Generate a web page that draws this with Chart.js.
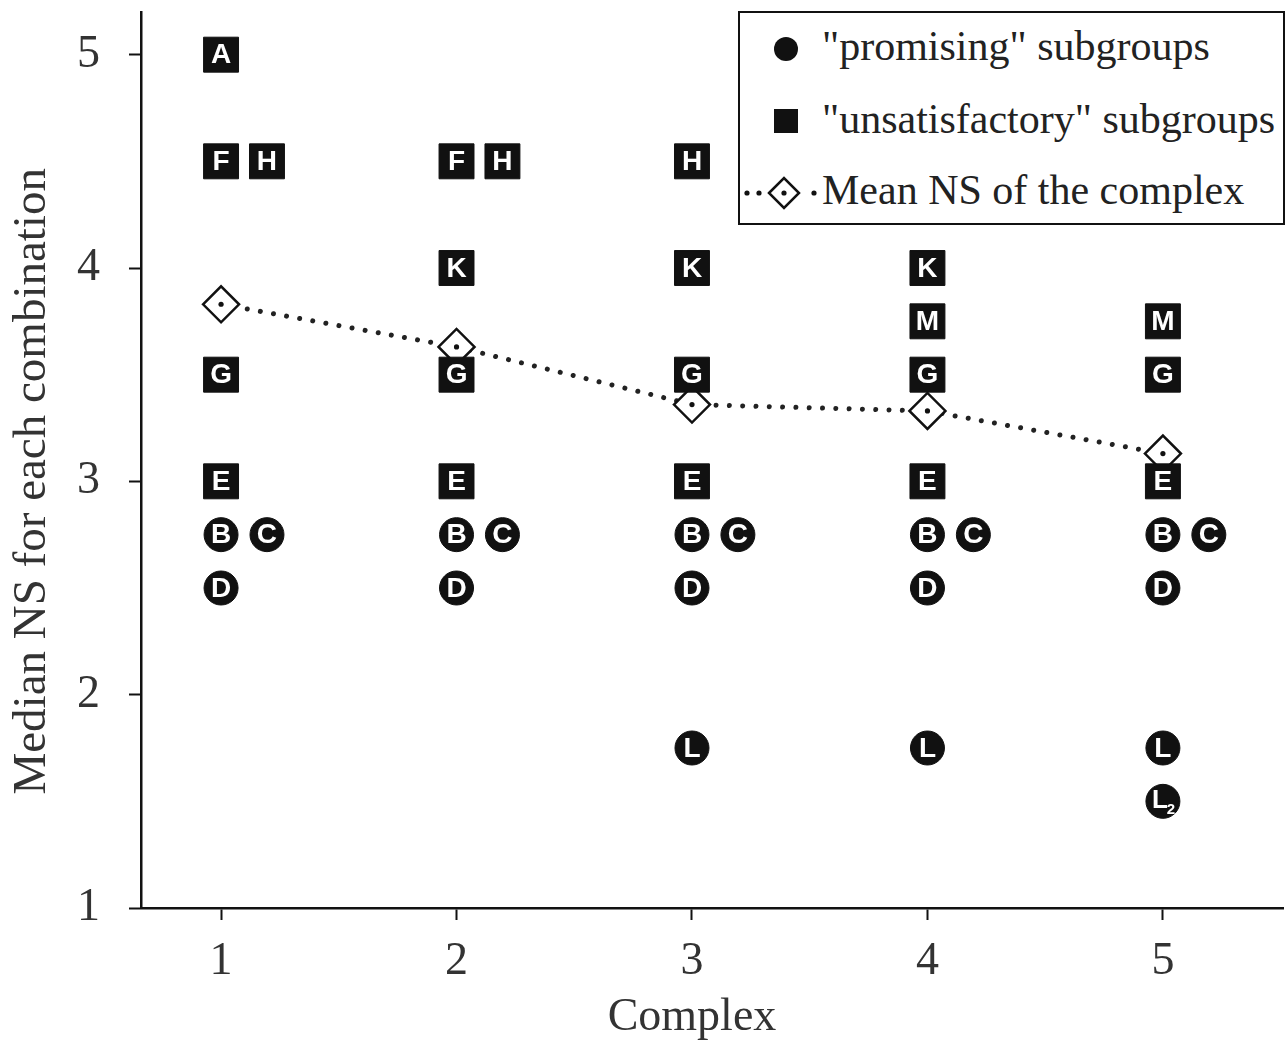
<!DOCTYPE html>
<html>
<head>
<meta charset="utf-8">
<script src="https://cdn.jsdelivr.net/npm/chart.js@4.4.1/dist/chart.umd.min.js"></script>
<style>
  body { margin: 0; background: #fff; }
  #wrap { position: relative; width: 1285px; height: 1041px; }
  #legendBox {
    position: absolute; left: 738px; top: 11px; width: 543px; height: 210px;
    border: 2px solid #111; background: #fff;
    font-family: "Liberation Serif", "Times New Roman", serif; font-size: 42px; color: #222;
  }
  .row { position: absolute; left: 82px; height: 46px; line-height: 46px; white-space: nowrap; }
  .mark { position: absolute; }
</style>
</head>
<body>
<div id="wrap">
  <canvas id="chart" width="1285" height="1041"></canvas>
  <div id="legendBox">
    <svg class="mark" style="left:32px;top:22px" width="28" height="28"><circle cx="14" cy="14" r="12" fill="#111"/></svg>
    <div class="row" style="top:10px">"promising" subgroups</div>
    <svg class="mark" style="left:33px;top:95px" width="26" height="26"><rect x="1" y="1" width="24" height="24" fill="#111"/></svg>
    <div class="row" style="top:83px">"unsatisfactory" subgroups</div>
    <svg class="mark" style="left:0px;top:162px" width="82" height="36">
      <circle cx="7" cy="18" r="2.6" fill="#111"/>
      <circle cx="19" cy="18" r="2.6" fill="#111"/>
      <polygon points="29,18 44,3 59,18 44,33" fill="#fff" stroke="#111" stroke-width="2.5"/>
      <circle cx="44" cy="18" r="2.6" fill="#111"/>
      <circle cx="74" cy="18" r="2.6" fill="#111"/>
    </svg>
    <div class="row" style="top:154px">Mean NS of the complex</div>
  </div>
</div>
<script>
// Complexes on the x axis and tick labels
const complexes = [1, 2, 3, 4, 5];
const xTicks = [1, 2, 3, 4, 5];
const yTicks = [1, 2, 3, 4, 5];
const xTitle = 'Complex';
const yTitle = 'Median NS for each combination';

// Mean NS of each complex
const meanNS = [3.83, 3.63, 3.36, 3.33, 3.13];

// Median NS per subgroup, one value per complex (null = not present)
const groupA = [5, null, null, null, null];
const groupB = [2.75, 2.75, 2.75, 2.75, 2.75];
const groupC = [2.75, 2.75, 2.75, 2.75, 2.75];
const groupD = [2.5, 2.5, 2.5, 2.5, 2.5];
const groupE = [3, 3, 3, 3, 3];
const groupF = [4.5, 4.5, null, null, null];
const groupG = [3.5, 3.5, 3.5, 3.5, 3.5];
const groupH = [4.5, 4.5, 4.5, null, null];
const groupK = [null, 4, 4, 4, null];
const groupL = [null, null, 1.75, 1.75, 1.75];
const groupL2 = [null, null, null, null, 1.5];
const groupM = [null, null, null, 3.75, 3.75];

// A subgroup sharing its row with another one is drawn a little to the right
const besideShift = 0.195;
const fontSerif = '"Liberation Serif", "Times New Roman", serif';

function toPoints(values, besideOf) {
  const pts = [];
  values.forEach((v, i) => {
    if (v === null) return;
    const shift = besideOf && besideOf[i] !== null ? besideShift : 0;
    pts.push({ x: complexes[i] + shift, y: v });
  });
  return pts;
}

/**
 * Build one dataset per subgroup
 */
function subgroup(letter, values, promising, besideOf) {
  return {
    label: letter,
    data: toPoints(values, besideOf),
    showLine: false,
    pointStyle: promising ? 'circle' : 'rect',
    pointRadius: promising ? 17 : 24.7,
    pointHoverRadius: promising ? 17 : 24.7,
    backgroundColor: '#111',
    borderColor: '#111',
    pointBorderWidth: 1,
    order: 0
  };
}

const datasets = [
  subgroup('A', groupA, false),
  subgroup('F', groupF, false),
  subgroup('H', groupH, false, groupF),
  subgroup('K', groupK, false),
  subgroup('M', groupM, false),
  subgroup('G', groupG, false),
  subgroup('E', groupE, false),
  subgroup('B', groupB, true),
  subgroup('C', groupC, true, groupB),
  subgroup('D', groupD, true),
  subgroup('L', groupL, true),
  subgroup('L2', groupL2, true),
  {
    label: 'mean',
    data: toPoints(meanNS),
    showLine: true,
    borderColor: '#222',
    borderWidth: 5,
    borderDash: [0.01, 13.3],
    borderCapStyle: 'round',
    pointStyle: 'rectRot',
    pointRadius: 18,
    pointHoverRadius: 18,
    pointBackgroundColor: '#fff',
    pointBorderColor: '#111',
    pointBorderWidth: 2.5,
    order: 1
  }
];

// Letters inside the markers, and the centre dot of the mean diamonds
const markerLabels = {
  id: 'markerLabels',
  afterDatasetsDraw(chart) {
    const ctx = chart.ctx;
    ctx.save();
    chart.data.datasets.forEach((ds, di) => {
      const meta = chart.getDatasetMeta(di);
      meta.data.forEach(el => {
        if (ds.label === 'mean') {
          ctx.fillStyle = '#111';
          ctx.beginPath();
          ctx.arc(el.x, el.y, 2.6, 0, Math.PI * 2);
          ctx.fill();
          return;
        }
        ctx.fillStyle = '#fff';
        ctx.textAlign = 'center';
        ctx.textBaseline = 'middle';
        if (ds.label === 'L2') {
          ctx.font = 'bold 26px "Liberation Sans", Arial, sans-serif';
          ctx.fillText('L', el.x - 3, el.y - 1);
          ctx.font = 'bold 15px "Liberation Sans", Arial, sans-serif';
          ctx.fillText('2', el.x + 8, el.y + 9);
        } else {
          ctx.font = 'bold 28px "Liberation Sans", Arial, sans-serif';
          ctx.fillText(ds.label, el.x, el.y + 1);
        }
      });
    });
    ctx.restore();
  }
};

// Axis titles, placed like in the original figure (not centred on the plot box)
const axisTitles = {
  id: 'axisTitles',
  afterDraw(chart) {
    const ctx = chart.ctx;
    const x = chart.scales.x;
    const y = chart.scales.y;
    ctx.save();
    ctx.fillStyle = '#333';
    ctx.font = '46px ' + fontSerif;
    ctx.textAlign = 'center';
    ctx.textBaseline = 'middle';
    ctx.fillText(xTitle, x.getPixelForValue(3), 1018);
    ctx.font = '47px ' + fontSerif;
    ctx.translate(33, y.getPixelForValue(3));
    ctx.rotate(-Math.PI / 2);
    ctx.fillText(yTitle, 0, 0);
    ctx.restore();
  }
};

function noPadding(scale) {
  scale.paddingTop = 0;
  scale.paddingBottom = 0;
  scale.paddingLeft = 0;
  scale.paddingRight = 0;
}

new Chart(document.getElementById('chart'), {
  type: 'scatter',
  data: { datasets: datasets },
  options: {
    responsive: false,
    devicePixelRatio: 1,
    animation: false,
    layout: { autoPadding: false, padding: { top: 12, right: 2, left: 0, bottom: 0 } },
    plugins: { legend: { display: false }, tooltip: { enabled: false } },
    scales: {
      x: {
        type: 'linear',
        min: 0.66,
        max: 5.51,
        afterBuildTicks: s => { s.ticks = xTicks.map(v => ({ value: v })); },
        afterFit: s => { s.height = 133; noPadding(s); },
        grid: { drawOnChartArea: false, drawTicks: true, tickLength: 12, tickColor: '#111', tickWidth: 2 },
        border: { display: true, color: '#111', width: 2.5 },
        ticks: { color: '#333', padding: 14, font: { family: fontSerif, size: 46 } }
      },
      y: {
        type: 'linear',
        min: 1,
        max: 5.2,
        afterBuildTicks: s => { s.ticks = yTicks.map(v => ({ value: v })); },
        afterFit: s => { s.width = 141; noPadding(s); },
        grid: { drawOnChartArea: false, drawTicks: true, tickLength: 12, tickColor: '#111', tickWidth: 2 },
        border: { display: true, color: '#111', width: 2.5 },
        ticks: { color: '#333', padding: 29, font: { family: fontSerif, size: 46 } }
      }
    }
  },
  plugins: [markerLabels, axisTitles]
});
</script>
</body>
</html>
